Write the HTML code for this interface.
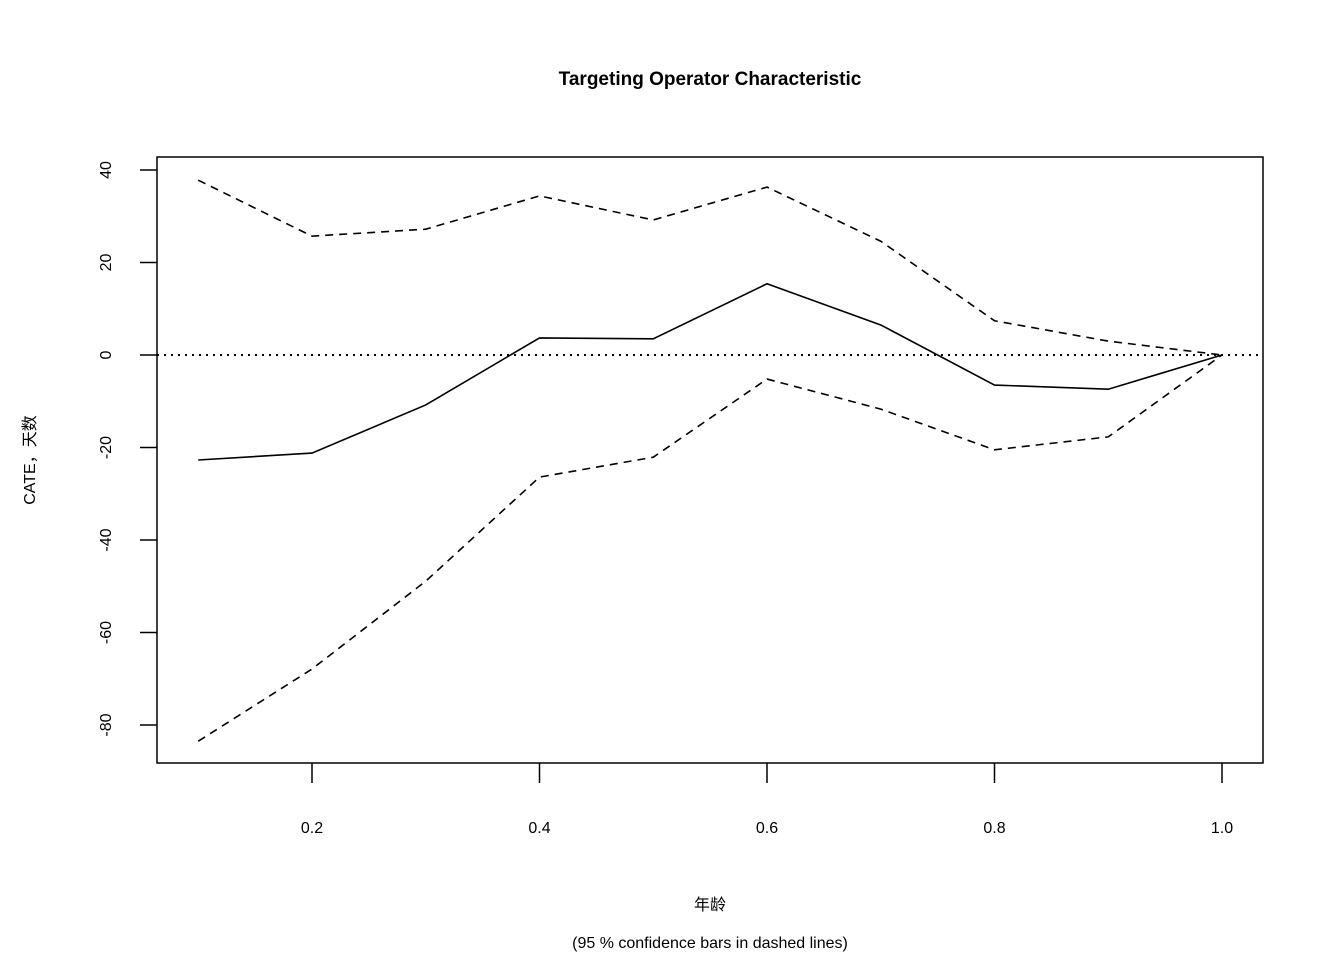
<!DOCTYPE html>
<html><head><meta charset="utf-8"><style>
body{margin:0;background:#fff}
svg text{font-family:"Liberation Sans","Noto Sans CJK SC",sans-serif;fill:#000}
</style></head><body>
<svg id="chart" width="1344" height="960" xmlns="http://www.w3.org/2000/svg">
<text x="710" y="85" text-anchor="middle" font-size="19" font-weight="bold">Targeting Operator Characteristic</text>
<rect x="157" y="157" width="1106" height="606" fill="none" stroke="#000" stroke-width="1.5"/>
<g id="xaxis"></g>
<g id="yaxis"></g>
<g id="series"></g>
<text x="710" y="910" text-anchor="middle" font-size="16">年龄</text>
<text x="710" y="948" text-anchor="middle" font-size="16">(95 % confidence bars in dashed lines)</text>
<text transform="translate(35,460) rotate(-90)" text-anchor="middle" font-size="16">CATE，天数</text>
</svg>
<script>
const xs=[0.1,0.2,0.3,0.4,0.5,0.6,0.7,0.8,0.9,1.0];
const estimate=[-22.7,-21.2,-10.8,3.7,3.5,15.4,6.5,-6.5,-7.4,0];
const upper=[37.8,25.7,27.2,34.4,29.2,36.3,24.6,7.4,3.0,0];
const lower=[-83.5,-67.9,-48.9,-26.4,-22.1,-5.2,-11.7,-20.5,-17.7,0];
const xTicks=[0.2,0.4,0.6,0.8,1.0];
const xTickLabels=["0.2","0.4","0.6","0.8","1.0"];
const yTicks=[40,20,0,-20,-40,-60,-80];
const yTickLabels=["40","20","0","-20","-40","-60","-80"];
const NS="http://www.w3.org/2000/svg";
const X=v=>312+(v-0.2)*1137.5;
const Y=v=>355-v*4.625;
function mk(tag,attrs,parent){const e=document.createElementNS(NS,tag);for(const k in attrs)e.setAttribute(k,attrs[k]);parent.appendChild(e);return e;}
const xa=document.getElementById('xaxis'),ya=document.getElementById('yaxis'),sg=document.getElementById('series');
xTicks.forEach((t,i)=>{
 const l=mk('line',{x1:X(t),x2:X(t),y1:763,y2:783,stroke:'#000','stroke-width':1.5},xa);
 
 
 const tx=mk('text',{x:X(t),y:833,'text-anchor':'middle','font-size':16},xa);tx.textContent=xTickLabels[i];
 
 
});
yTicks.forEach((t,i)=>{
 const l=mk('line',{x1:140,x2:157,y1:Y(t),y2:Y(t),stroke:'#000','stroke-width':1.5},ya);
 
 
 const tx=mk('text',{transform:`translate(111,${Y(t)}) rotate(-90)`,'text-anchor':'middle','font-size':16},ya);tx.textContent=yTickLabels[i];
 
 
});
const zero=mk('line',{x1:157,x2:1263,y1:Y(0),y2:Y(0),stroke:'#000','stroke-width':2,'stroke-dasharray':'2,5'},sg);


function line(vals,dash,name){
 const p=mk('polyline',{points:vals.map((v,i)=>X(xs[i])+','+Y(v)).join(' '),fill:'none',stroke:'#000','stroke-width':1.6},sg);
 if(dash)p.setAttribute('stroke-dasharray','8,6');
 
 
}
line(estimate,false,'cate-estimate-line');
line(upper,true,'upper-confidence-line');
line(lower,true,'lower-confidence-line');
</script>
</body></html>
